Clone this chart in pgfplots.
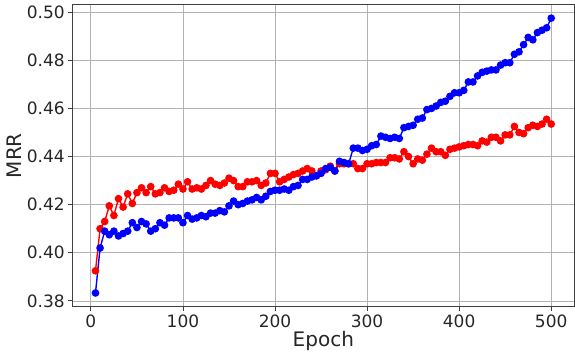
\documentclass[border=0pt]{standalone}
\usepackage{pgfplots}
\pgfplotsset{compat=1.18}
\usepackage{fontspec}
\setmainfont{DejaVu Sans}
\begin{document}
\begin{tikzpicture}
\begin{axis}[
  scale only axis,
  width=501.3bp, height=302bp,
  xmin=-19.75, xmax=524.75,
  ymin=0.3776, ymax=0.5031,
  xtick={0,100,200,300,400,500},
  ytick={0.38,0.40,0.42,0.44,0.46,0.48,0.50},
  yticklabel style={/pgf/number format/.cd, fixed, fixed zerofill, precision=2},
  /pgf/number format/assume math mode=true,
  tick label style={font=\fontsize{17bp}{20bp}\selectfont, text=black!85},
  label style={font=\fontsize{20bp}{24bp}\selectfont, text=black!85},
  xlabel={Epoch}, ylabel={MRR},
  grid=major,
  major grid style={color=black!30, line width=0.8bp},
  axis line style={color=black!75, line width=0.9bp},
  tick style={color=black!75, line width=0.9bp},
  tick align=outside, major tick length=4.5bp,
  xtick pos=bottom, ytick pos=left,
  xlabel style={yshift=3bp},
  ylabel style={yshift=-2bp},
]
\addplot[color=red, line width=1.4bp, mark=*, mark size=3.1bp, mark options={fill=red, draw=red}] coordinates {
(5,0.3925)(10,0.410)(15,0.413)(20,0.4195)(25,0.4155)(30,0.4225)(35,0.419)(40,0.4245)(45,0.4205)(50,0.425)
(55,0.427)(60,0.425)(65,0.4275)(70,0.4245)(75,0.425)(80,0.427)(85,0.4255)(90,0.426)(95,0.4285)(100,0.4265)
(105,0.4295)(110,0.4265)(115,0.427)(120,0.4265)(125,0.428)(130,0.430)(135,0.4285)(140,0.428)(145,0.429)(150,0.431)
(155,0.430)(160,0.4275)(165,0.4275)(170,0.4295)(175,0.4295)(180,0.430)(185,0.428)(190,0.429)(195,0.433)(200,0.433)
(205,0.4295)(210,0.4305)(215,0.4315)(220,0.4325)(225,0.433)(230,0.434)(235,0.435)(240,0.434)(245,0.432)(250,0.434)
(255,0.4345)(260,0.436)(265,0.434)(270,0.437)(275,0.437)(280,0.437)(285,0.437)(290,0.435)(295,0.435)(300,0.437)
(305,0.437)(310,0.4375)(315,0.4375)(320,0.4375)(325,0.4395)(330,0.4395)(335,0.439)(340,0.442)(345,0.440)(350,0.437)
(355,0.439)(360,0.4385)(365,0.441)(370,0.4435)(375,0.442)(380,0.442)(385,0.4405)(390,0.443)(395,0.4435)(400,0.444)
(405,0.4445)(410,0.445)(415,0.445)(420,0.4445)(425,0.4465)(430,0.446)(435,0.448)(440,0.448)(445,0.4465)(450,0.449)
(455,0.449)(460,0.4525)(465,0.450)(470,0.4495)(475,0.452)(480,0.453)(485,0.4525)(490,0.4535)(495,0.4555)(500,0.4535)
};
\addplot[color=blue, line width=1.4bp, mark=*, mark size=3.1bp, mark options={fill=blue, draw=blue}] coordinates {
(5,0.3833)(10,0.402)(15,0.409)(20,0.4075)(25,0.409)(30,0.407)(35,0.408)(40,0.409)(45,0.4125)(50,0.4105)
(55,0.413)(60,0.412)(65,0.409)(70,0.410)(75,0.4125)(80,0.4115)(85,0.4145)(90,0.4145)(95,0.4145)(100,0.4125)
(105,0.4155)(110,0.414)(115,0.4145)(120,0.4155)(125,0.415)(130,0.4165)(135,0.4165)(140,0.4175)(145,0.417)(150,0.4195)
(155,0.4215)(160,0.420)(165,0.4205)(170,0.4215)(175,0.422)(180,0.423)(185,0.422)(190,0.4235)(195,0.4255)(200,0.426)
(205,0.426)(210,0.4265)(215,0.426)(220,0.4275)(225,0.428)(230,0.4305)(235,0.4305)(240,0.4315)(245,0.432)(250,0.433)
(255,0.435)(260,0.4355)(265,0.434)(270,0.438)(275,0.4375)(280,0.437)(285,0.4435)(290,0.4435)(295,0.4425)(300,0.443)
(305,0.4445)(310,0.445)(315,0.4485)(320,0.448)(325,0.4475)(330,0.448)(335,0.4475)(340,0.452)(345,0.4525)(350,0.453)
(355,0.4555)(360,0.456)(365,0.4595)(370,0.460)(375,0.461)(380,0.4625)(385,0.463)(390,0.465)(395,0.4665)(400,0.4665)
(405,0.4675)(410,0.471)(415,0.471)(420,0.4735)(425,0.475)(430,0.4755)(435,0.476)(440,0.476)(445,0.478)(450,0.479)
(455,0.479)(460,0.4825)(465,0.4835)(470,0.4865)(475,0.4895)(480,0.4885)(485,0.4915)(490,0.4925)(495,0.4935)(500,0.4975)
};
\end{axis}
\path (current axis.south west) ++(-72.7bp,-47.3bp);
\path (current axis.north east) ++(1bp,4.7bp);
\end{tikzpicture}
\end{document}
